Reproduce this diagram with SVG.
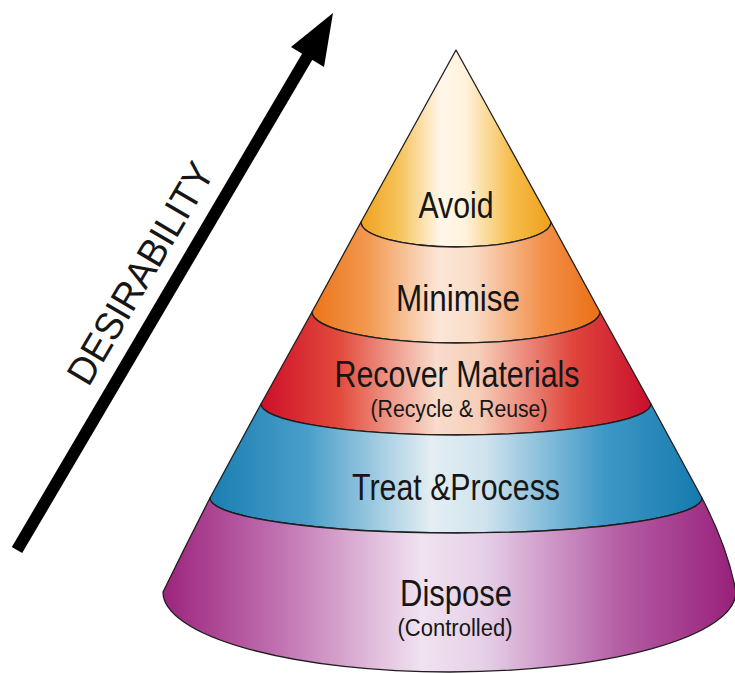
<svg xmlns="http://www.w3.org/2000/svg" width="735" height="673" viewBox="0 0 735 673">
  <defs>
    <linearGradient id="gAvoid" x1="0" y1="0" x2="1" y2="0">
      <stop offset="0" stop-color="#EFA21E"/>
      <stop offset="0.2" stop-color="#F6C25A"/>
      <stop offset="0.42" stop-color="#FFF7EA"/>
      <stop offset="0.55" stop-color="#FFF3DC"/>
      <stop offset="0.8" stop-color="#F5BC48"/>
      <stop offset="1" stop-color="#EEA01C"/>
    </linearGradient>
    <linearGradient id="gMin" x1="0" y1="0" x2="1" y2="0">
      <stop offset="0" stop-color="#EC7418"/>
      <stop offset="0.2" stop-color="#F29A52"/>
      <stop offset="0.44" stop-color="#FCE6D8"/>
      <stop offset="0.56" stop-color="#FADCC8"/>
      <stop offset="0.8" stop-color="#F2904A"/>
      <stop offset="1" stop-color="#EA7014"/>
    </linearGradient>
    <linearGradient id="gRec" x1="0" y1="0" x2="1" y2="0">
      <stop offset="0" stop-color="#CE0F2A"/>
      <stop offset="0.2" stop-color="#E24A3C"/>
      <stop offset="0.45" stop-color="#F9DCCC"/>
      <stop offset="0.56" stop-color="#F6CDB8"/>
      <stop offset="0.8" stop-color="#E0453C"/>
      <stop offset="1" stop-color="#C80F2E"/>
    </linearGradient>
    <linearGradient id="gTreat" x1="0" y1="0" x2="1" y2="0">
      <stop offset="0" stop-color="#1A7EB2"/>
      <stop offset="0.2" stop-color="#4A9FCA"/>
      <stop offset="0.45" stop-color="#E4EEF3"/>
      <stop offset="0.56" stop-color="#CFE3EE"/>
      <stop offset="0.8" stop-color="#3E98C6"/>
      <stop offset="1" stop-color="#167AAE"/>
    </linearGradient>
    <linearGradient id="gDisp" x1="0" y1="0" x2="1" y2="0">
      <stop offset="0" stop-color="#9C247C"/>
      <stop offset="0.2" stop-color="#C070B0"/>
      <stop offset="0.45" stop-color="#F0E2F0"/>
      <stop offset="0.56" stop-color="#E6D0E8"/>
      <stop offset="0.8" stop-color="#B45CA4"/>
      <stop offset="1" stop-color="#98207A"/>
    </linearGradient>
  </defs>
  <style>
    .band { stroke: #1e1e1e; stroke-width: 1.3; stroke-linejoin: round; }
    .lbl { font-family: "Liberation Sans Narrow", "Liberation Sans", Arial, sans-serif; fill: #161616; text-anchor: middle; }
    .big { font-size: 36px; }
    .small { font-size: 23px; }
  </style>

  <g id="connectors">
    <line x1="17" y1="550" x2="310" y2="52" stroke="#000" stroke-width="12"/>
    <polygon points="333,13 324,67 291,47" fill="#000"/>
  </g>

  <g id="desirability">
    <text class="lbl" font-size="39" transform="translate(152,280) rotate(-59.5)" textLength="250" lengthAdjust="spacingAndGlyphs">DESIRABILITY</text>
  </g>

  <g id="avoid">
    <path class="band" fill="url(#gAvoid)" d="M456,50 L361,222 A95,25 0 0 0 551,222 Z"/>
    <text class="lbl big" x="456" y="218" textLength="75" lengthAdjust="spacingAndGlyphs">Avoid</text>
  </g>

  <g id="minimise">
    <path class="band" fill="url(#gMin)" d="M361,222 A95,25 0 0 0 551,222 L600,312 A144,31 0 0 1 312,312 Z"/>
    <text class="lbl big" x="458" y="311" textLength="124" lengthAdjust="spacingAndGlyphs">Minimise</text>
  </g>

  <g id="recover">
    <path class="band" fill="url(#gRec)" d="M312,312 A144,31 0 0 0 600,312 L651,404 A195,31 0 0 1 261,404 Z"/>
    <text class="lbl big" x="457" y="387" textLength="245" lengthAdjust="spacingAndGlyphs">Recover Materials</text>
    <text class="lbl small" x="459" y="417" textLength="177" lengthAdjust="spacingAndGlyphs">(Recycle &amp; Reuse)</text>
  </g>

  <g id="treat">
    <path class="band" fill="url(#gTreat)" d="M261,404 A195,31 0 0 0 651,404 L702,498 A246,35 0 0 1 210,498 Z"/>
    <text class="lbl big" x="456" y="500" textLength="208" lengthAdjust="spacingAndGlyphs">Treat &amp;Process</text>
  </g>

  <g id="dispose">
    <path class="band" fill="url(#gDisp)" d="M210,498 A246,35 0 0 0 702,498 Q728,548 736,592 A286.5,80 0 0 1 163,592 Q186,545 210,498 Z"/>
    <text class="lbl big" x="456" y="606" textLength="112" lengthAdjust="spacingAndGlyphs">Dispose</text>
    <text class="lbl small" x="455" y="636" textLength="115" lengthAdjust="spacingAndGlyphs">(Controlled)</text>
  </g>
</svg>
